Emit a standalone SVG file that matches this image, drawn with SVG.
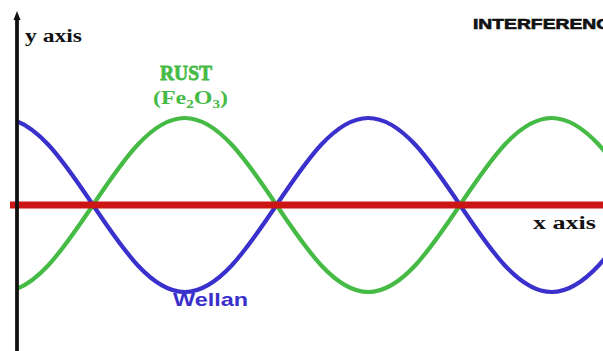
<svg xmlns="http://www.w3.org/2000/svg" width="603" height="351" viewBox="0 0 603 351">
<style>
.wave{fill:none;stroke-width:4.2;stroke-linecap:round}
.ax{font-family:"Liberation Serif","DejaVu Serif",serif;font-weight:bold;fill:#111}
</style>
<defs>
<clipPath id="plot"><rect x="17" y="0" width="586" height="351"/></clipPath>
</defs>
<rect width="603" height="351" fill="#ffffff"/>
<g id="connectors">
<g clip-path="url(#plot)">
<path id="blue-wave" class="wave" stroke="#3a30cc" d="M1.25,118 C34.45,118 63.08,160.43 93,205 S151.55,292 184.75,292 S246.58,249.57 276.5,205 S335.05,118 368.25,118 S430.08,160.43 460,205 S518.55,292 551.75,292 S613.58,249.57 643.5,205"/>
<path id="green-wave" class="wave" stroke="#45bb45" d="M1.25,292 C34.45,292 63.08,249.57 93,205 S151.55,118 184.75,118 S246.58,160.43 276.5,205 S335.05,292 368.25,292 S430.08,249.57 460,205 S518.55,118 551.75,118 S613.58,160.43 643.5,205"/>
</g>
<line id="x-axis" x1="10" y1="205" x2="603" y2="205" stroke="#cc1515" stroke-width="7"/>
<line id="y-axis" x1="17" y1="16" x2="17" y2="351" stroke="#111" stroke-width="3.8"/>
<path d="M13.5,20 L17,11 L20.5,20 Z" fill="#111"/>
</g>
<g id="label-y-axis"><text class="ax" x="25" y="42" font-size="18" textLength="57" lengthAdjust="spacingAndGlyphs">y axis</text></g>
<g id="label-x-axis"><text class="ax" x="533" y="229" font-size="18" textLength="63" lengthAdjust="spacingAndGlyphs">x axis</text></g>
<g id="label-interference"><text x="473" y="29" font-family="'Liberation Sans',Arial,sans-serif" font-weight="900" font-size="14" fill="#111" stroke="#111" stroke-width="0.6" textLength="150" lengthAdjust="spacingAndGlyphs">INTERFERENCE</text></g>
<g id="label-rust" fill="#45bb45" font-family="'Liberation Serif','DejaVu Serif',serif" font-weight="bold">
<text x="160" y="80" font-size="22" stroke="#45bb45" stroke-width="0.8" textLength="52" lengthAdjust="spacingAndGlyphs">RUST</text>
<text x="153" y="104" font-size="19" textLength="75" lengthAdjust="spacingAndGlyphs">(Fe<tspan font-size="12" dy="4">2</tspan><tspan dy="-4">O</tspan><tspan font-size="12" dy="4">3</tspan><tspan dy="-4">)</tspan></text>
</g>
<g id="label-wellan"><text x="173" y="306" font-family="'Liberation Sans',Arial,sans-serif" font-weight="bold" font-size="19" fill="#3a30cc" textLength="75" lengthAdjust="spacingAndGlyphs">Wellan</text></g>
</svg>
